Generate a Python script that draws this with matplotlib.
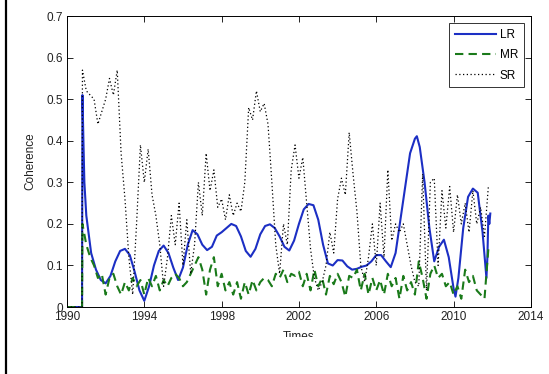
import numpy as np
import matplotlib
matplotlib.use("Agg")
import matplotlib.pyplot as plt
from matplotlib.patches import Rectangle
from matplotlib.lines import Line2D

plt.rcParams["font.family"] = ["Liberation Sans", "DejaVu Sans"]

## zero stretch before the series start
lead_year = [1990.0, 1990.78]
lead_val = [0.0, 0.0]

## LR (smooth curve)
lr_year = [1990.80, 1990.85, 1990.90, 1991.00, 1991.25, 1991.50, 1991.75,
           1992.00, 1992.25, 1992.50, 1992.75, 1993.00, 1993.25, 1993.50, 1993.75,
           1994.00, 1994.25, 1994.50, 1994.75, 1995.00, 1995.25, 1995.50, 1995.75,
           1996.00, 1996.25, 1996.50, 1996.75, 1997.00, 1997.25, 1997.50, 1997.75,
           1998.00, 1998.25, 1998.50, 1998.75, 1999.00, 1999.25, 1999.50, 1999.75,
           2000.00, 2000.25, 2000.50, 2000.75, 2001.00, 2001.25, 2001.50, 2001.75,
           2002.00, 2002.25, 2002.50, 2002.75, 2003.00, 2003.25, 2003.50, 2003.75,
           2004.00, 2004.25, 2004.50, 2004.75, 2005.00, 2005.25, 2005.50, 2005.75,
           2006.00, 2006.25, 2006.50, 2006.75, 2007.00, 2007.25, 2007.50, 2007.75,
           2008.00, 2008.10, 2008.25, 2008.50, 2008.75, 2009.00, 2009.25, 2009.50,
           2009.75, 2010.00, 2010.10, 2010.25, 2010.50, 2010.75, 2011.00, 2011.25,
           2011.50, 2011.70, 2011.75, 2011.80, 2011.85, 2011.90]
lr_val = [0.51, 0.40, 0.30, 0.22, 0.13, 0.09, 0.065,
          0.057, 0.075, 0.11, 0.135, 0.14, 0.125, 0.085, 0.04,
          0.015, 0.05, 0.10, 0.135, 0.148, 0.13, 0.095, 0.065,
          0.095, 0.15, 0.185, 0.175, 0.15, 0.137, 0.145, 0.172,
          0.18, 0.19, 0.20, 0.195, 0.17, 0.135, 0.121, 0.14,
          0.175, 0.195, 0.199, 0.19, 0.17, 0.145, 0.136, 0.16,
          0.20, 0.235, 0.248, 0.245, 0.21, 0.15, 0.105, 0.10,
          0.113, 0.112, 0.098, 0.09, 0.092, 0.097, 0.10, 0.11,
          0.125, 0.125, 0.11, 0.096, 0.13, 0.21, 0.29, 0.37,
          0.405, 0.411, 0.385, 0.30, 0.19, 0.11, 0.145, 0.162,
          0.12, 0.045, 0.025, 0.07, 0.19, 0.265, 0.285, 0.275,
          0.18, 0.07, 0.12, 0.22, 0.20, 0.225]

## MR and SR sampled every 0.2 yr from 1990.8
step = 0.2
start = 1990.8
mr_val = [0.20,
          0.15, 0.12, 0.10, 0.07, 0.08,    # 1991
          0.03, 0.07, 0.08, 0.05, 0.03,    # 1992
          0.06, 0.04, 0.07, 0.05, 0.065,   # 1993
          0.03, 0.07, 0.05, 0.075, 0.04,   # 1994
          0.065, 0.05, 0.07, 0.08, 0.07,   # 1995
          0.05, 0.06, 0.08, 0.10, 0.12,    # 1996
          0.09, 0.03, 0.09, 0.12, 0.05,    # 1997
          0.08, 0.04, 0.06, 0.03, 0.06,    # 1998
          0.02, 0.06, 0.03, 0.065, 0.04,   # 1999
          0.06, 0.07, 0.065, 0.05, 0.08,   # 2000
          0.07, 0.09, 0.06, 0.08, 0.075,   # 2001
          0.085, 0.05, 0.08, 0.04, 0.09,   # 2002
          0.05, 0.07, 0.03, 0.075, 0.055,  # 2003
          0.08, 0.06, 0.025, 0.075, 0.07,  # 2004
          0.09, 0.04, 0.08, 0.03, 0.07,    # 2005
          0.04, 0.065, 0.03, 0.08, 0.05,   # 2006
          0.07, 0.02, 0.075, 0.04, 0.06,   # 2007
          0.03, 0.11, 0.07, 0.02, 0.08,    # 2008
          0.10, 0.07, 0.08, 0.05, 0.06,    # 2009
          0.03, 0.05, 0.02, 0.09, 0.06,    # 2010
          0.075, 0.04, 0.03, 0.02, 0.14]   # 2011
sr_val = [0.57,
          0.52, 0.51, 0.50, 0.44, 0.47,    # 1991
          0.50, 0.55, 0.51, 0.57, 0.37,    # 1992
          0.26, 0.12, 0.03, 0.20, 0.39,    # 1993
          0.30, 0.38, 0.27, 0.22, 0.15,    # 1994
          0.05, 0.12, 0.22, 0.15, 0.25,    # 1995
          0.10, 0.21, 0.08, 0.15, 0.30,    # 1996
          0.22, 0.37, 0.28, 0.33, 0.24,    # 1997
          0.26, 0.21, 0.27, 0.22, 0.25,    # 1998
          0.23, 0.30, 0.48, 0.45, 0.52,    # 1999
          0.47, 0.49, 0.44, 0.30, 0.15,    # 2000
          0.08, 0.20, 0.15, 0.33, 0.39,    # 2001
          0.31, 0.36, 0.25, 0.14, 0.07,    # 2002
          0.04, 0.06, 0.10, 0.18, 0.13,    # 2003
          0.26, 0.31, 0.27, 0.42, 0.32,    # 2004
          0.23, 0.10, 0.06, 0.12, 0.20,    # 2005
          0.10, 0.25, 0.12, 0.33, 0.16,    # 2006
          0.20, 0.18, 0.20, 0.15, 0.10,    # 2007
          0.06, 0.05, 0.32, 0.04, 0.30,    # 2008
          0.31, 0.10, 0.28, 0.19, 0.29,    # 2009
          0.18, 0.27, 0.20, 0.25, 0.18,    # 2010
          0.28, 0.20, 0.24, 0.17, 0.29]    # 2011

mr_year = start + step * np.arange(len(mr_val))
sr_year = start + step * np.arange(len(sr_val))

fig = plt.figure(figsize=(5.49, 3.74), dpi=100)
ax = fig.add_axes([0.122, 0.179, 0.845, 0.778])

ax.plot(lead_year + lr_year, lead_val + lr_val, color="#1c2fc4", lw=1.5, label="LR")
ax.plot(lead_year + list(mr_year), lead_val + mr_val, color="#1a7a1a", lw=1.5,
        ls=(0, (4, 2.5)), label="MR")
ax.plot(lead_year + list(sr_year), lead_val + sr_val, color="black", lw=0.9,
        ls=(0, (1, 2)), label="SR")

ax.set_xlim(1990, 2014)
ax.set_ylim(0, 0.7)
ax.set_xticks(np.arange(1990, 2015, 4))
ax.set_yticks(np.arange(0, 0.71, 0.1))
ax.set_yticklabels(["0", "0.1", "0.2", "0.3", "0.4", "0.5", "0.6", "0.7"])
ax.tick_params(direction="in", length=4, width=0.6, top=True, right=True,
               labelsize=8.5, pad=3, labelcolor="#222222")
for s in ax.spines.values():
    s.set_linewidth(0.7)

ax.set_xlabel("Times", fontsize=8.5, labelpad=5.5, color="#222222")
ax.set_ylabel("Coherence", fontsize=8.5, labelpad=7, color="#222222")

leg = ax.legend(loc="upper right", fontsize=8.5, handlelength=3.5, frameon=True,
                fancybox=False, borderaxespad=0.6, labelspacing=0.7,
                handletextpad=0.3, borderpad=0.5)
leg.get_frame().set_edgecolor("black")
leg.get_frame().set_linewidth(0.7)

# white strip at bottom (the reference is cropped through the x label)
fig.patches.append(Rectangle((0, 0), 1, 37 / 374, transform=fig.transFigure,
                             facecolor="white", edgecolor="none", zorder=10))
# black border line on left edge
fig.lines.append(Line2D([6 / 549, 6 / 549], [0, 1], transform=fig.transFigure,
                        color="black", lw=1.6, zorder=11))

fig.savefig("out.png", dpi=100)
